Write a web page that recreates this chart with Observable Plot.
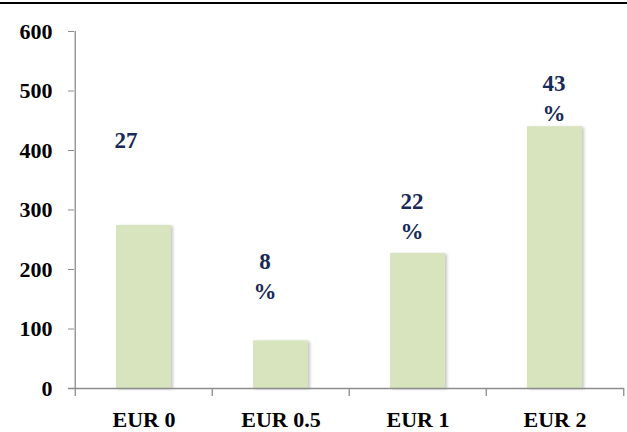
<!DOCTYPE html>
<html>
<head>
<meta charset="utf-8">
<script src="https://cdn.jsdelivr.net/npm/d3@7"></script>
<script src="https://cdn.jsdelivr.net/npm/@observablehq/plot@0.6"></script>
<style>
  html, body { margin: 0; padding: 0; background: #fff; }
  #topline { height: 2px; border-bottom: 2px solid #000; width: 627px; }
  svg { display: block; }
  #chart svg, #chart svg text, #chart svg tspan { font-family: "Liberation Serif", "Times New Roman", serif !important; font-weight: bold; }
</style>
</head>
<body>
<div id="topline"></div>
<div id="chart"></div>
<script>
// ---- data ----
const categories = ["EUR 0", "EUR 0.5", "EUR 1", "EUR 2"];
const values = [274, 80, 227, 440];
const labels = ["27", "8\n%", "22\n%", "43\n%"];
const yTicks = [0, 100, 200, 300, 400, 500, 600];

const data = categories.map((c, i) => ({cat: c, value: values[i], label: labels[i]}));

// ---- layout / style ----
const W = 627, H = 428;
const mL = 74, mR = 3, mT = 27, mB = 44;
const step = (W - mL - mR) / categories.length;
const font = '"Liberation Serif", "Times New Roman", serif';
const axisGray = "#8c8c8c";
const labelColor = "#172a57";
// per-label nudges (pixels) to mimic the hand-placed labels
const labelDx = [-18, -16, -6, -1];
const labelDy = [-99, -93, -66, -57];

const plot = Plot.plot({
  width: W,
  height: H,
  marginLeft: mL,
  marginRight: mR,
  marginTop: mT,
  marginBottom: mB,
  style: {background: "#fff", overflow: "visible"},
  x: {type: "band", domain: categories, paddingInner: 0.6, paddingOuter: 0.3, label: null},
  y: {domain: [0, 600], label: null},
  marks: [
    Plot.barY(data, {x: "cat", y: "value", fill: "#d7e4bd"}),
    // y axis line
    Plot.ruleX([categories[0]], {x: d => d, dx: -step / 2, y1: 0, y2: 600, stroke: axisGray, strokeWidth: 1.3}),
    // x axis line (extends under the 0 tick)
    Plot.ruleY([0], {stroke: axisGray, strokeWidth: 1.3, insetLeft: -6}),
    // category boundary ticks
    Plot.ruleX(categories, {x: d => d, dx: -step / 2, y1: 0, y2: 0, insetBottom: -8, stroke: axisGray, strokeWidth: 1.3}),
    Plot.ruleX([categories[categories.length - 1]], {x: d => d, dx: step / 2, y1: 0, y2: 0, insetBottom: -8, stroke: axisGray, strokeWidth: 1.3}),
    Plot.axisY({ticks: yTicks, tickSize: 6, tickPadding: 16, stroke: axisGray, fill: "#000",
      fontSize: 22, fontWeight: "bold", fontFamily: font, tickFormat: d => String(d)}),
    Plot.axisX({tickSize: 0, tickPadding: 23, fill: "#000", fontSize: 22, fontWeight: "bold", fontFamily: font}),
    ...data.map((d, i) => Plot.text([d], {
      x: "cat", y: "value", text: "label",
      dx: labelDx[i], dy: labelDy[i],
      lineAnchor: "top", lineHeight: 1.3,
      fill: labelColor, fontSize: 23, fontWeight: "bold", fontFamily: font
    }))
  ]
});

plot.querySelectorAll('g[aria-label="bar"] rect').forEach(r => {
  r.style.filter = "drop-shadow(2px 1px 1.5px rgba(0,0,0,0.22))";
});

document.getElementById("chart").appendChild(plot);
</script>
</body>
</html>
